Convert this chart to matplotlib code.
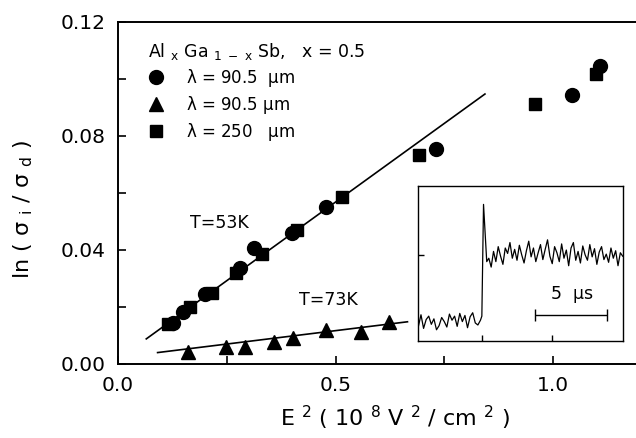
import matplotlib
matplotlib.use("Agg")
import matplotlib.pyplot as plt
import numpy as np

plt.rcParams['font.family'] = ['DejaVu Sans']
plt.rcParams['mathtext.default'] = 'regular'

# T=53K, lambda = 90.5 um (circles)
circ_x = [0.126, 0.150, 0.200, 0.281, 0.312, 0.400, 0.479, 0.730, 1.044, 1.108]
circ_y = [0.0143, 0.0184, 0.0246, 0.0336, 0.0406, 0.0459, 0.0549, 0.0753, 0.0944, 0.1046]
# lambda = 250 um (squares)
sq_x = [0.115, 0.166, 0.216, 0.270, 0.331, 0.412, 0.515, 0.692, 0.958, 1.099]
sq_y = [0.0140, 0.0201, 0.0248, 0.0318, 0.0386, 0.0470, 0.0587, 0.0733, 0.0911, 0.1018]
# T=73K, lambda = 90.5 um (triangles)
tri_x = [0.160, 0.247, 0.291, 0.358, 0.402, 0.477, 0.559, 0.623]
tri_y = [0.0041, 0.0058, 0.0061, 0.0078, 0.0092, 0.0119, 0.0113, 0.0148]

# fitted lines (end points)
fit53_x = [0.065, 0.843]
fit53_y = [0.0088, 0.0947]
fit73_x = [0.091, 0.665]
fit73_y = [0.0040, 0.0148]

# inset: photoresponse trace (arb. units, time in us)
lo_sig = [-0.05, 0.12, -0.08, 0.05, 0.10, -0.02, 0.06, -0.10, -0.04, 0.08, 0.02, -0.06, 0.13,
          0.04, 0.10, -0.05, 0.14, 0.02, 0.11, -0.07, 0.09, 0.15, 0.0, -0.03, 0.04]
step_t = [0.0, 0.12, 0.35]
step_sig = [0.10, 1.74, 0.90]
hi_sig = [0.95, 0.82, 1.05, 0.90, 1.12, 0.98, 0.86, 1.10, 1.02, 1.18, 0.95, 1.08, 0.92, 1.14,
          1.00, 0.88, 1.06, 1.20, 0.97, 1.10, 0.90, 1.03, 1.15, 0.93, 1.08, 1.22, 0.98, 0.87,
          1.12, 1.03, 0.90, 1.16, 0.95, 1.07, 0.84, 1.10, 1.18, 0.92, 1.05, 0.88, 1.13, 1.00,
          0.92, 1.15, 0.97, 1.09, 0.86, 1.04, 1.12, 0.93, 1.01, 0.89, 1.10, 0.95, 1.06, 0.84,
          1.03, 0.98]

fig = plt.figure(figsize=(6.36, 4.38), dpi=100)
ax = fig.add_axes([0.1855, 0.169, 0.8145, 0.781])

ax.plot(fit53_x, fit53_y, color='black', lw=1.2)
ax.plot(fit73_x, fit73_y, color='black', lw=1.2)
ax.plot(circ_x, circ_y, 'o', color='black', ms=10, label=r'$\lambda$ = 90.5  $\mu$m', zorder=3)
ax.plot(tri_x, tri_y, '^', color='black', ms=10, label=r'$\lambda$ = 90.5 $\mu$m', zorder=3)
ax.plot(sq_x, sq_y, 's', color='black', ms=9, label=r'$\lambda$ = 250   $\mu$m', zorder=3)

ax.set_xlim(0, 1.19)
ax.set_ylim(0, 0.12)
ax.set_xticks([0.0, 0.5, 1.0])
ax.set_xticklabels(['0.0', '0.5', '1.0'])
ax.set_xticks([0.25, 0.75], minor=True)
ax.set_yticks([0.0, 0.04, 0.08, 0.12])
ax.set_yticklabels(['0.00', '0.04', '0.08', '0.12'])
ax.set_yticks([0.02, 0.06, 0.10], minor=True)
ax.tick_params(which='both', direction='in', labelsize=14.5, width=1.2, top=False, right=False)
ax.tick_params(which='major', length=6, pad=9)
ax.tick_params(which='minor', length=6)
ax.spines['right'].set_visible(False)
for s in ['left', 'bottom', 'top']:
    ax.spines[s].set_linewidth(1.4)

ax.set_xlabel(r'E $^{2}$ ( 10 $^{8}$ V $^{2}$ / cm $^{2}$ )', fontsize=16)
ax.xaxis.set_label_coords(0.535, -0.115)
ax.set_ylabel(r'ln ( $\sigma$ $_{i}$ / $\sigma$ $_{d}$ )', fontsize=16)
ax.yaxis.set_label_coords(-0.16, 0.45)

ax.text(0.166, 0.0495, 'T=53K', fontsize=12.5, va='center')
ax.text(0.415, 0.0225, 'T=73K', fontsize=12.5, va='center')

leg = ax.legend(loc='upper left', bbox_to_anchor=(0.045, 0.965), frameon=False,
                title=r'Al $_{x}$ Ga $_{1\ -\ x}$ Sb,   x = 0.5', title_fontsize=12.5,
                fontsize=12, handlelength=1.0, handletextpad=1.3, labelspacing=0.3,
                borderaxespad=0, alignment='left')

# inset
ins = fig.add_axes([417.7 / 636, (438 - 341) / 438, 205 / 636, 155 / 438])
lo_t = np.linspace(-4.55, -0.1, len(lo_sig))
hi_t = np.linspace(0.5, 10.1, len(hi_sig))
t = np.concatenate([lo_t, step_t, hi_t])
sig = np.concatenate([lo_sig, step_sig, hi_sig])
ins.plot(t, sig, color='black', lw=0.9)
ins.set_xlim(-4.6, 10.1)
ins.set_ylim(-0.265, 2.01)
ins.set_xticks([0, 5])
ins.set_yticks([1])
ins.tick_params(direction='in', length=4, labelbottom=False, labelleft=False, width=1)
for s in ins.spines.values():
    s.set_linewidth(1.0)
ins.errorbar([6.4], [0.12], xerr=[[2.6], [2.6]], color='black', lw=1.0, capsize=4, capthick=1.0)
ins.text(6.43, 0.42, r'5  $\mu$s', fontsize=12.5, ha='center', va='center')

fig.savefig('out.png', dpi=100)
